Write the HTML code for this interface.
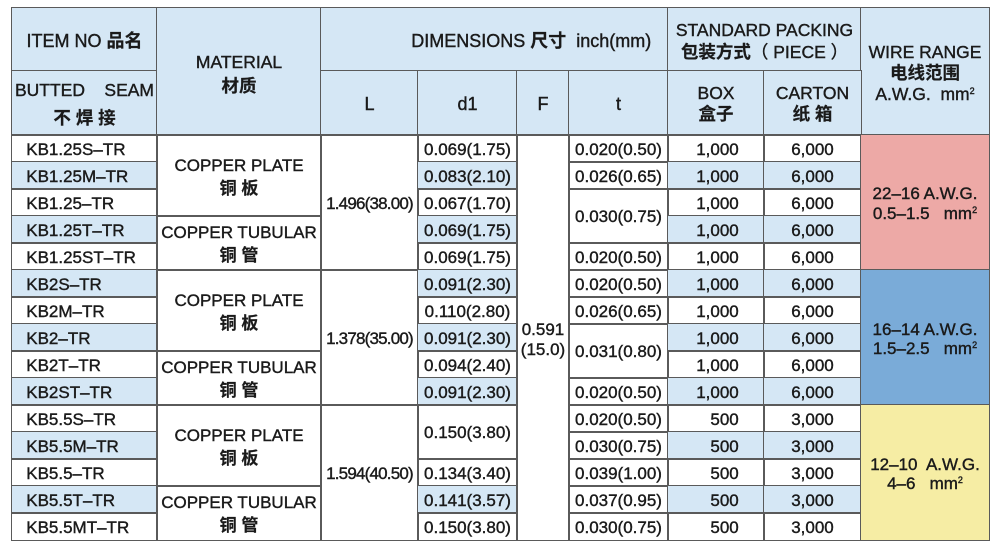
<!DOCTYPE html>
<html><head><meta charset="utf-8"><style>
body{margin:0;background:#fff;width:1000px;height:546px;overflow:hidden;position:relative;font-family:"Liberation Sans","Noto Sans CJK SC",sans-serif;color:#1a1a1a;}
.c{position:absolute;box-sizing:border-box;border:1.5px solid #5a5a5a;display:flex;flex-direction:column;align-items:center;justify-content:center;text-align:center;white-space:pre;font-size:17px;line-height:20px;-webkit-text-stroke:0.4px #1a1a1a;padding-top:2px;}
.b{background:#d5e7f5}
.l{align-items:flex-start;padding-left:14px}
.r1{align-items:flex-end;padding-right:25px}
.r2{align-items:flex-end;padding-right:27px}
.z{font-weight:700;-webkit-text-stroke:0.2px #1a1a1a}
.h{font-size:17.5px}
.n{letter-spacing:-0.8px}
.p{background:#eda9a6}
.u{background:#7aabd8}
.y{background:#f6eda4}
sup{font-size:9px;vertical-align:6px;line-height:0}
</style></head><body>
<!-- header -->
<div class="c b" style="left:11.25px;top:7.25px;width:146.5px;height:64.5px;font-size:18px"><div>ITEM NO <span class="z">品名</span></div></div>
<div class="c b h" style="left:11.25px;top:70.25px;width:146.5px;height:65.5px;line-height:28px"><div>BUTTED    SEAM</div><div class="z">不 焊 接</div></div>
<div class="c b h" style="left:156.25px;top:7.25px;width:165.5px;height:128.5px;line-height:24px;padding-top:4px"><div>MATERIAL</div><div class="z">材质</div></div>
<div class="c b" style="left:320.25px;top:7.25px;width:348.5px;height:64.5px;font-size:18px;align-items:flex-start;padding-left:90px"><div>DIMENSIONS <span class="z">尺寸</span>  inch(mm)</div></div>
<div class="c b h" style="left:667.25px;top:7.25px;width:194.5px;height:64.5px;line-height:22px"><div>STANDARD PACKING</div><div><span class="z">包装方式</span>（ PIECE ）</div></div>
<div class="c b h" style="left:860.25px;top:7.25px;width:129.5px;height:128.5px;line-height:21px;padding-top:4px"><div>WIRE RANGE</div><div class="z">电线范围</div><div>A.W.G.  mm<sup>2</sup></div></div>
<div class="c b" style="left:320.25px;top:70.25px;width:98.5px;height:65.5px;font-size:18px"><div>L</div></div>
<div class="c b" style="left:417.25px;top:70.25px;width:100.5px;height:65.5px;font-size:18px"><div>d1</div></div>
<div class="c b" style="left:516.25px;top:70.25px;width:53.5px;height:65.5px;font-size:18px"><div>F</div></div>
<div class="c b" style="left:568.25px;top:70.25px;width:100.5px;height:65.5px;font-size:18px"><div>t</div></div>
<div class="c b h" style="left:667.25px;top:70.25px;width:97.5px;height:65.5px;line-height:21px"><div>BOX</div><div class="z">盒子</div></div>
<div class="c b h" style="left:763.25px;top:70.25px;width:98.5px;height:65.5px;line-height:21px"><div>CARTON</div><div class="z">纸 箱</div></div>

<!-- item column -->
<div class="c l" style="left:11.25px;top:134.25px;width:146.5px;height:28.5px"><div>KB1.25S–TR</div></div>
<div class="c l b" style="left:11.25px;top:161.25px;width:146.5px;height:28.5px"><div>KB1.25M–TR</div></div>
<div class="c l" style="left:11.25px;top:188.25px;width:146.5px;height:28.5px"><div>KB1.25–TR</div></div>
<div class="c l b" style="left:11.25px;top:215.25px;width:146.5px;height:28.5px"><div>KB1.25T–TR</div></div>
<div class="c l" style="left:11.25px;top:242.25px;width:146.5px;height:28.5px"><div>KB1.25ST–TR</div></div>
<div class="c l b" style="left:11.25px;top:269.25px;width:146.5px;height:28.5px"><div>KB2S–TR</div></div>
<div class="c l" style="left:11.25px;top:296.25px;width:146.5px;height:28.5px"><div>KB2M–TR</div></div>
<div class="c l b" style="left:11.25px;top:323.25px;width:146.5px;height:28.5px"><div>KB2–TR</div></div>
<div class="c l" style="left:11.25px;top:350.25px;width:146.5px;height:28.5px"><div>KB2T–TR</div></div>
<div class="c l b" style="left:11.25px;top:377.25px;width:146.5px;height:28.5px"><div>KB2ST–TR</div></div>
<div class="c l" style="left:11.25px;top:404.25px;width:146.5px;height:28.5px"><div>KB5.5S–TR</div></div>
<div class="c l b" style="left:11.25px;top:431.25px;width:146.5px;height:28.5px"><div>KB5.5M–TR</div></div>
<div class="c l" style="left:11.25px;top:458.25px;width:146.5px;height:28.5px"><div>KB5.5–TR</div></div>
<div class="c l b" style="left:11.25px;top:485.25px;width:146.5px;height:28.5px"><div>KB5.5T–TR</div></div>
<div class="c l" style="left:11.25px;top:512.25px;width:146.5px;height:28.5px"><div>KB5.5MT–TR</div></div>

<!-- material -->
<div class="c" style="left:156.25px;top:134.25px;width:165.5px;height:82.5px;line-height:23px"><div>COPPER PLATE</div><div class="z">铜 板</div></div>
<div class="c" style="left:156.25px;top:215.25px;width:165.5px;height:55.5px;line-height:23px"><div>COPPER TUBULAR</div><div class="z">铜 管</div></div>
<div class="c" style="left:156.25px;top:269.25px;width:165.5px;height:82.5px;line-height:23px"><div>COPPER PLATE</div><div class="z">铜 板</div></div>
<div class="c" style="left:156.25px;top:350.25px;width:165.5px;height:55.5px;line-height:23px"><div>COPPER TUBULAR</div><div class="z">铜 管</div></div>
<div class="c" style="left:156.25px;top:404.25px;width:165.5px;height:82.5px;line-height:23px"><div>COPPER PLATE</div><div class="z">铜 板</div></div>
<div class="c" style="left:156.25px;top:485.25px;width:165.5px;height:55.5px;line-height:23px"><div>COPPER TUBULAR</div><div class="z">铜 管</div></div>

<!-- L -->
<div class="c n" style="left:320.25px;top:134.25px;width:98.5px;height:136.5px"><div>1.496(38.00)</div></div>
<div class="c n" style="left:320.25px;top:269.25px;width:98.5px;height:136.5px"><div>1.378(35.00)</div></div>
<div class="c n" style="left:320.25px;top:404.25px;width:98.5px;height:136.5px"><div>1.594(40.50)</div></div>

<!-- d1 -->
<div class="c" style="left:417.25px;top:134.25px;width:100.5px;height:28.5px"><div>0.069(1.75)</div></div>
<div class="c b" style="left:417.25px;top:161.25px;width:100.5px;height:28.5px"><div>0.083(2.10)</div></div>
<div class="c" style="left:417.25px;top:188.25px;width:100.5px;height:28.5px"><div>0.067(1.70)</div></div>
<div class="c b" style="left:417.25px;top:215.25px;width:100.5px;height:28.5px"><div>0.069(1.75)</div></div>
<div class="c" style="left:417.25px;top:242.25px;width:100.5px;height:28.5px"><div>0.069(1.75)</div></div>
<div class="c b" style="left:417.25px;top:269.25px;width:100.5px;height:28.5px"><div>0.091(2.30)</div></div>
<div class="c" style="left:417.25px;top:296.25px;width:100.5px;height:28.5px"><div>0.110(2.80)</div></div>
<div class="c b" style="left:417.25px;top:323.25px;width:100.5px;height:28.5px"><div>0.091(2.30)</div></div>
<div class="c" style="left:417.25px;top:350.25px;width:100.5px;height:28.5px"><div>0.094(2.40)</div></div>
<div class="c b" style="left:417.25px;top:377.25px;width:100.5px;height:28.5px"><div>0.091(2.30)</div></div>
<div class="c" style="left:417.25px;top:404.25px;width:100.5px;height:55.5px"><div>0.150(3.80)</div></div>
<div class="c" style="left:417.25px;top:458.25px;width:100.5px;height:28.5px"><div>0.134(3.40)</div></div>
<div class="c b" style="left:417.25px;top:485.25px;width:100.5px;height:28.5px"><div>0.141(3.57)</div></div>
<div class="c" style="left:417.25px;top:512.25px;width:100.5px;height:28.5px"><div>0.150(3.80)</div></div>

<!-- F -->
<div class="c" style="left:516.25px;top:134.25px;width:53.5px;height:406.5px;padding-top:4px"><div>0.591</div><div>(15.0)</div></div>

<!-- t -->
<div class="c" style="left:568.25px;top:134.25px;width:100.5px;height:28.5px"><div>0.020(0.50)</div></div>
<div class="c" style="left:568.25px;top:161.25px;width:100.5px;height:28.5px"><div>0.026(0.65)</div></div>
<div class="c" style="left:568.25px;top:188.25px;width:100.5px;height:55.5px"><div>0.030(0.75)</div></div>
<div class="c" style="left:568.25px;top:242.25px;width:100.5px;height:28.5px"><div>0.020(0.50)</div></div>
<div class="c" style="left:568.25px;top:269.25px;width:100.5px;height:28.5px"><div>0.020(0.50)</div></div>
<div class="c" style="left:568.25px;top:296.25px;width:100.5px;height:28.5px"><div>0.026(0.65)</div></div>
<div class="c" style="left:568.25px;top:323.25px;width:100.5px;height:55.5px"><div>0.031(0.80)</div></div>
<div class="c" style="left:568.25px;top:377.25px;width:100.5px;height:28.5px"><div>0.020(0.50)</div></div>
<div class="c" style="left:568.25px;top:404.25px;width:100.5px;height:28.5px"><div>0.020(0.50)</div></div>
<div class="c" style="left:568.25px;top:431.25px;width:100.5px;height:28.5px"><div>0.030(0.75)</div></div>
<div class="c" style="left:568.25px;top:458.25px;width:100.5px;height:28.5px"><div>0.039(1.00)</div></div>
<div class="c" style="left:568.25px;top:485.25px;width:100.5px;height:28.5px"><div>0.037(0.95)</div></div>
<div class="c" style="left:568.25px;top:512.25px;width:100.5px;height:28.5px"><div>0.030(0.75)</div></div>

<!-- BOX -->
<div class="c r1" style="left:667.25px;top:134.25px;width:97.5px;height:28.5px"><div>1,000</div></div>
<div class="c r1 b" style="left:667.25px;top:161.25px;width:97.5px;height:28.5px"><div>1,000</div></div>
<div class="c r1" style="left:667.25px;top:188.25px;width:97.5px;height:28.5px"><div>1,000</div></div>
<div class="c r1 b" style="left:667.25px;top:215.25px;width:97.5px;height:28.5px"><div>1,000</div></div>
<div class="c r1" style="left:667.25px;top:242.25px;width:97.5px;height:28.5px"><div>1,000</div></div>
<div class="c r1 b" style="left:667.25px;top:269.25px;width:97.5px;height:28.5px"><div>1,000</div></div>
<div class="c r1" style="left:667.25px;top:296.25px;width:97.5px;height:28.5px"><div>1,000</div></div>
<div class="c r1 b" style="left:667.25px;top:323.25px;width:97.5px;height:28.5px"><div>1,000</div></div>
<div class="c r1" style="left:667.25px;top:350.25px;width:97.5px;height:28.5px"><div>1,000</div></div>
<div class="c r1 b" style="left:667.25px;top:377.25px;width:97.5px;height:28.5px"><div>1,000</div></div>
<div class="c r1" style="left:667.25px;top:404.25px;width:97.5px;height:28.5px"><div>500</div></div>
<div class="c r1 b" style="left:667.25px;top:431.25px;width:97.5px;height:28.5px"><div>500</div></div>
<div class="c r1" style="left:667.25px;top:458.25px;width:97.5px;height:28.5px"><div>500</div></div>
<div class="c r1 b" style="left:667.25px;top:485.25px;width:97.5px;height:28.5px"><div>500</div></div>
<div class="c r1" style="left:667.25px;top:512.25px;width:97.5px;height:28.5px"><div>500</div></div>

<!-- CARTON -->
<div class="c r2" style="left:763.25px;top:134.25px;width:98.5px;height:28.5px"><div>6,000</div></div>
<div class="c r2 b" style="left:763.25px;top:161.25px;width:98.5px;height:28.5px"><div>6,000</div></div>
<div class="c r2" style="left:763.25px;top:188.25px;width:98.5px;height:28.5px"><div>6,000</div></div>
<div class="c r2 b" style="left:763.25px;top:215.25px;width:98.5px;height:28.5px"><div>6,000</div></div>
<div class="c r2" style="left:763.25px;top:242.25px;width:98.5px;height:28.5px"><div>6,000</div></div>
<div class="c r2 b" style="left:763.25px;top:269.25px;width:98.5px;height:28.5px"><div>6,000</div></div>
<div class="c r2" style="left:763.25px;top:296.25px;width:98.5px;height:28.5px"><div>6,000</div></div>
<div class="c r2 b" style="left:763.25px;top:323.25px;width:98.5px;height:28.5px"><div>6,000</div></div>
<div class="c r2" style="left:763.25px;top:350.25px;width:98.5px;height:28.5px"><div>6,000</div></div>
<div class="c r2 b" style="left:763.25px;top:377.25px;width:98.5px;height:28.5px"><div>6,000</div></div>
<div class="c r2" style="left:763.25px;top:404.25px;width:98.5px;height:28.5px"><div>3,000</div></div>
<div class="c r2 b" style="left:763.25px;top:431.25px;width:98.5px;height:28.5px"><div>3,000</div></div>
<div class="c r2" style="left:763.25px;top:458.25px;width:98.5px;height:28.5px"><div>3,000</div></div>
<div class="c r2 b" style="left:763.25px;top:485.25px;width:98.5px;height:28.5px"><div>3,000</div></div>
<div class="c r2" style="left:763.25px;top:512.25px;width:98.5px;height:28.5px"><div>3,000</div></div>

<!-- wire range -->
<div class="c p" style="left:860.25px;top:134.25px;width:129.5px;height:136.5px"><div>22–16 A.W.G.</div><div>0.5–1.5   mm<sup>2</sup></div></div>
<div class="c u" style="left:860.25px;top:269.25px;width:129.5px;height:136.5px;line-height:19px"><div>16–14 A.W.G.</div><div>1.5–2.5   mm<sup>2</sup></div></div>
<div class="c y" style="left:860.25px;top:404.25px;width:129.5px;height:136.5px;line-height:19px"><div>12–10  A.W.G.</div><div>4–6   mm<sup>2</sup></div></div>
</body></html>
